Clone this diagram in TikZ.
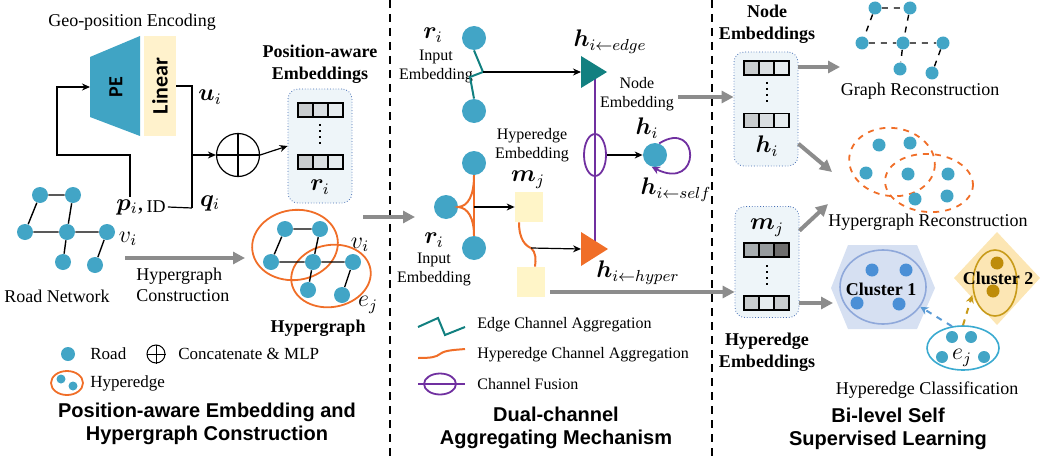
\documentclass[tikz,border=0pt]{standalone}
\usepackage{amsmath, amssymb}
\usepackage{bm}
\usepackage{fontspec}
\setmainfont{Liberation Serif}
\newfontfamily\headfont{Liberation Sans}
\newfontfamily\blockfont{Carlito}
\usetikzlibrary{
  arrows.meta, positioning, shapes.geometric, calc
}
\definecolor{roadblue}{RGB}{66, 165, 198}
\definecolor{pecol}{RGB}{64, 164, 196}
\definecolor{linfill}{RGB}{255, 242, 204}
\definecolor{mfill}{RGB}{255, 245, 200}
\definecolor{edgeteal}{RGB}{18, 128, 128}
\definecolor{hyporange}{RGB}{240, 110, 40}
\definecolor{fusepurple}{RGB}{112, 48, 160}
\definecolor{arrowgray}{RGB}{140, 140, 140}
\definecolor{boxblue}{RGB}{70, 110, 180}
\definecolor{boxfill}{RGB}{238, 245, 249}
\definecolor{cellA}{RGB}{200, 204, 206}
\definecolor{cellB}{RGB}{217, 222, 225}
\definecolor{cellC}{RGB}{230, 236, 239}
\definecolor{cellD}{RGB}{167, 173, 176}
\definecolor{cellE}{RGB}{150, 155, 158}
\definecolor{cellF}{RGB}{110, 110, 110}
\definecolor{hexfill}{RGB}{214, 224, 242}
\definecolor{clu1line}{RGB}{143, 168, 218}
\definecolor{clu1dot}{RGB}{74, 143, 214}
\definecolor{diafill}{RGB}{252, 230, 180}
\definecolor{clu2line}{RGB}{200, 155, 26}
\definecolor{clu2dot}{RGB}{190, 140, 10}
\definecolor{ejline}{RGB}{58, 170, 208}
\definecolor{arrowblue}{RGB}{91, 155, 213}

\begin{document}
\begin{tikzpicture}[
    x=0.5pt, y=-0.5pt,
    lbl/.style={font=\fontsize{9}{10.5}\selectfont, align=center, inner sep=1pt},
    smalllbl/.style={font=\fontsize{8}{9.5}\selectfont, align=center, inner sep=1pt},
    leglbl/.style={font=\fontsize{8.5}{10}\selectfont, inner sep=1pt, anchor=west},
    boldlbl/.style={font=\fontsize{9}{11}\selectfont\bfseries, align=center, inner sep=1pt},
    title/.style={font=\headfont\bfseries\fontsize{10}{11.5}\selectfont, align=center},
    mlbl/.style={font=\fontsize{12}{14}\selectfont, inner sep=1pt},
    road/.style={circle, fill=roadblue, inner sep=0pt, minimum size=8pt},
    bignode/.style={road, minimum size=12pt},
    dotnode/.style={road, minimum size=6.5pt},
    link/.style={line width=0.7pt},
    arrow/.style={-{Stealth[length=4pt,width=3.5pt]}, line width=0.6pt},
    garrow/.style={-{Triangle[length=6pt,width=6pt]}, line width=2pt, arrowgray},
    embbox/.style={draw=boxblue, densely dotted, rounded corners=5pt, fill=boxfill,
                   minimum width=32pt, minimum height=57pt},
    cell/.style={draw, line width=0.6pt, minimum width=7.5pt, minimum height=7pt,
                 inner sep=0pt, outer sep=0pt},
    mbox/.style={fill=mfill, minimum width=14pt, minimum height=15pt, inner sep=0pt},
    divider/.style={line width=0.9pt, dash pattern=on 4pt off 3pt},
  ]
    \useasboundingbox (0,0) rectangle (1047,460);

    % Panel borders
    \draw[divider] (390,0) -- (390,460);
    \draw[divider] (712,0) -- (712,460);

    % ---------- Position-aware embedding ----------
    \node[lbl] (geotitle) at (132,22) {Geo-position Encoding};
    \fill[pecol] (90,57) -- (140,36) -- (140,136) -- (90,117) -- cycle;
    \coordinate (pein) at (90,87);
    \node[rotate=90, font=\blockfont\bfseries\fontsize{10}{12}\selectfont] (pe) at (116,87) {PE};
    \node[fill=linfill, minimum width=16pt, minimum height=50pt, inner sep=0pt] (linear) at (160,86) {};
    \node[rotate=90, font=\blockfont\bfseries\fontsize{11}{13}\selectfont] (lintext) at (linear) {Linear};

    \node[mlbl] (ui) at (210,97) {$\boldsymbol{u}_i$};
    \node[mlbl] (qi) at (210,203) {$\boldsymbol{q}_i$};
    \node[mlbl] (pi) at (130,207) {$\boldsymbol{p}_i$,};
    \node[lbl] (idlbl) at (156,207) {ID};
    \coordinate (qcorner) at (192,208);
    \coordinate (loop) at (57,155);

    \node[circle, draw, line width=0.6pt, minimum size=21.5pt, inner sep=0pt] (cat) at (238,155) {};
    \draw[line width=0.6pt] (cat.north) -- (cat.south) (cat.west) -- (cat.east);

    \draw[arrow] (pi.north) |- (loop) |- (pein);
    \draw[line width=0.6pt] (linear.east) -| (qcorner);
    \draw[line width=0.6pt] (idlbl.east) -- (qcorner);
    \draw[arrow] (qcorner |- cat.west) -- (cat.west);

    \node[boldlbl] (postitle) at (320,64) {Position-aware\\Embeddings};
    \node[embbox] (posbox) at (320,146) {};
    \foreach \rw/\yy in {1/110, 2/162} {
      \node[cell, fill=cellA] (p\rw a) at (305.5,\yy) {};
      \node[cell, fill=cellB, right=0pt of p\rw a] (p\rw b) {};
      \node[cell, fill=cellC, right=0pt of p\rw b] (p\rw c) {};
    }
    \draw[line width=1pt, dotted] (320,124) -- (320,148);
    \node[mlbl] (ri) at (320,187) {$\boldsymbol{r}_i$};
    \draw[arrow] (cat.east) -- (posbox.west);

    % Road network
    \node[road] (a1) at (40,195) {};
    \node[road] (a2) at (73,195) {};
    \node[road] (a3) at (25,232) {};
    \node[road] (a4) at (67,232) {};
    \node[road] (a5) at (107,232) {};
    \node[road] (a6) at (63,262) {};
    \node[road] (a7) at (95,265) {};
    \draw[link] (a1) -- (a2) (a1) -- (a3) (a2) -- (a4) (a3) -- (a4)
                (a4) -- (a5) (a4) -- (a6) (a5) -- (a7);
    \node[mlbl] (vi) at (128,239) {$v_i$};
    \node[lbl] (roadlbl) at (57,296) {Road Network};

    \coordinate (hcstart) at (125,258);
    \coordinate (hcend) at (245,258);
    \draw[garrow] (hcstart) -- (hcend);
    \node[lbl, align=left, anchor=west] (hclbl) at (134,285) {Hypergraph\\Construction};

    % Hypergraph
    \node[ellipse, draw=hyporange, line width=0.9pt, minimum width=43pt, minimum height=35pt,
          rotate=8] (he1) at (295,245) {};
    \node[ellipse, draw=hyporange, line width=0.9pt, minimum width=40pt, minimum height=31pt,
          rotate=10] (he2) at (331,276) {};
    \node[road] (b1) at (285,229) {};
    \node[road] (b2) at (320,229) {};
    \node[road] (b3) at (271,262) {};
    \node[road] (b4) at (313,262) {};
    \node[road] (b5) at (353,262) {};
    \node[road] (b6) at (308,290) {};
    \node[road] (b7) at (342,295) {};
    \draw[link] (b1) -- (b2) (b1) -- (b3) (b2) -- (b4) (b3) -- (b4)
                (b4) -- (b5) (b4) -- (b6) (b5) -- (b7);
    \node[mlbl] (vi2) at (360,245) {$v_i$};
    \node[mlbl] (ej) at (368,305) {$e_j$};
    \node[boldlbl] (hglbl) at (318,328) {Hypergraph};

    \coordinate (toagg) at (415,217);
    \draw[garrow] (363,217) -- (toagg);

    % Legend
    \node[road, minimum size=7pt] (legroad) at (68,354) {};
    \node[leglbl] (legroadtxt) at (88,354) {Road};
    \node[circle, draw, line width=0.5pt, minimum size=9pt, inner sep=0pt] (legcat) at (156,354) {};
    \draw[line width=0.5pt] (legcat.north) -- (legcat.south) (legcat.west) -- (legcat.east);
    \node[leglbl] (legcattxt) at (176,354) {Concatenate \& MLP};
    \node[ellipse, draw=hyporange, line width=0.9pt, minimum width=16pt, minimum height=12pt] (leghe) at (67,383) {};
    \node[road, minimum size=4.5pt] at (61,379) {};
    \node[road, minimum size=4.5pt] at (73,386) {};
    \node[leglbl] (leghetxt) at (88,383) {Hyperedge};

    \node[title] (t1) at (207,424) {Position-aware Embedding and\\Hypergraph Construction};

    % ---------- Dual-channel aggregation ----------
    \node[bignode] (et) at (474,38) {};
    \node[bignode] (eb) at (474,111) {};
    \node[mlbl] (ri2) at (433,35) {$\boldsymbol{r}_i$};
    \node[smalllbl] (in1) at (436,66) {Input\\Embedding};
    \coordinate (ejoin) at (483,72);
    \draw[edgeteal, line width=1pt] (et.south) -- (ejoin) -- (470,77) -- (eb.north);

    % fusion line and outputs
    \draw[fusepurple, line width=0.9pt] (595,72) -- (595,248);
    \fill[edgeteal] (581,56) -- (607,72) -- (581,88) -- cycle;
    \coordinate (edgein) at (581,72);
    \fill[hyporange] (581,232) -- (608,249) -- (581,266) -- cycle;
    \coordinate (hyperin) at (581,249);
    \draw[arrow] (ejoin) -- (edgein);
    \node[mlbl] (hedge) at (610,42) {$\boldsymbol{h}_{i\leftarrow edge}$};
    \node[mlbl] (hhyper) at (638,273) {$\boldsymbol{h}_{i\leftarrow hyper}$};

    \node[ellipse, draw=fusepurple, line width=0.9pt, minimum width=11pt, minimum height=21pt,
          inner sep=0pt] (fuse) at (595,155) {};
    \node[bignode] (hi) at (655,155) {};
    \draw[arrow] (fuse.east) -- (hi.west);
    \draw[fusepurple, line width=0.9pt, -{Stealth[length=4pt,width=4pt]}]
      (hi.70) .. controls (700,118) and (702,192) .. (hi.-105);
    \node[mlbl] (hilbl) at (647,128) {$\boldsymbol{h}_i$};
    \node[mlbl] (hself) at (676,190) {$\boldsymbol{h}_{i\leftarrow self}$};
    \node[smalllbl] (nodeemb) at (637,94) {Node\\Embedding};

    % hyperedge channel
    \node[bignode] (ht) at (474,163) {};
    \node[bignode] (hl) at (446,207) {};
    \node[bignode] (hb) at (474,248) {};
    \draw[hyporange, line width=1pt] (ht.south) -- (hb.north);
    \draw[hyporange, line width=1pt] (ht.south) .. controls (474,196) and (468,206) .. (hl.east)
          .. controls (468,208) and (474,218) .. (hb.north);
    \node[mlbl] (ri3) at (434,240) {$\boldsymbol{r}_i$};
    \node[smalllbl] (in2) at (434,269) {Input\\Embedding};

    \node[mbox] (mj1) at (529,207) {};
    \node[mbox] (mj2) at (531,282) {};
    \draw[arrow] (ht.south |- hl) -- (mj1.west);
    \node[smalllbl] (hyemb) at (532,145) {Hyperedge\\Embedding};
    \node[mlbl] (mjlbl) at (528,180) {$\boldsymbol{m}_j$};
    \coordinate (hbend) at (531,248);
    \draw[hyporange, line width=1pt] ($(mj1.south)+(-10,0)$) .. controls (519,240) and (526,246) .. (hbend)
          .. controls (536,252) and (536,260) .. ($(mj2.north)+(4,0)$);
    \draw[arrow] (hbend) -- (hyperin);

    % Legend
    \draw[edgeteal, line width=1pt] (418,327) -- (438,318) -- (445,335) -- (465,327);
    \node[smalllbl, anchor=west] (legedge) at (475,325) {Edge Channel Aggregation};
    \draw[hyporange, line width=1pt] (418,358) .. controls (432,358) and (436,357) .. (440,354)
          .. controls (445,350) and (455,350) .. (465,349);
    \node[smalllbl, anchor=west] (leghyper) at (475,355) {Hyperedge Channel Aggregation};
    \node[ellipse, draw=fusepurple, line width=0.9pt, minimum width=16pt, minimum height=10.5pt,
          inner sep=0pt] (legfuse) at (440,384) {};
    \draw[fusepurple, line width=0.9pt] (418,384) -- (465,384);
    \node[smalllbl, anchor=west] (legfusetxt) at (475,384) {Channel Fusion};

    \node[title] (t2) at (556,428) {Dual-channel\\Aggregating Mechanism};

    % ---------- Bi-level self supervised learning ----------
    \node[boldlbl] (nodetitle) at (767,24) {Node\\Embeddings};
    \node[embbox, minimum height=57pt] (nodebox) at (766,109) {};
    \foreach \rw/\yy in {1/68, 2/120.5} {
      \node[cell, fill=cellA] (n\rw a) at (751.5,\yy) {};
      \node[cell, fill=cellB, right=0pt of n\rw a] (n\rw b) {};
      \node[cell, fill=cellC, right=0pt of n\rw b] (n\rw c) {};
    }
    \draw[line width=1pt, dotted] (767,82) -- (767,106);
    \node[mlbl] (hilbl2) at (767,146) {$\boldsymbol{h}_i$};

    \node[embbox, minimum height=55.5pt] (hedgebox) at (767,262) {};
    \node[mlbl] (mjlbl2) at (767,228) {$\boldsymbol{m}_j$};
    \node[cell, fill=cellD] (m1a) at (751.5,250) {};
    \node[cell, fill=cellE, right=0pt of m1a] (m1b) {};
    \node[cell, fill=cellF, right=0pt of m1b] (m1c) {};
    \draw[line width=1pt, dotted] (767,265) -- (767,288);
    \node[cell, fill=cellA] (m2a) at (751.5,303) {};
    \node[cell, fill=cellC, right=0pt of m2a] (m2b) {};
    \node[cell, fill=cellA, right=0pt of m2b] (m2c) {};
    \node[boldlbl] (hedgetitle) at (767,352) {Hyperedge\\Embeddings};

    % incoming arrows
    \coordinate (nout) at (678,97);
    \draw[garrow] (nout) -- (nout -| nodebox.west);
    \coordinate (hout) at (550,292);
    \draw[garrow] (hout) -- (hout -| hedgebox.west);

    % Graph reconstruction
    \node[road, minimum size=6.5pt] (g1) at (875,8) {};
    \node[road, minimum size=6.5pt] (g2) at (910,8) {};
    \node[road, minimum size=6.5pt] (g3) at (862,43) {};
    \node[road, minimum size=6.5pt] (g4) at (903,43) {};
    \node[road, minimum size=6.5pt] (g5) at (943,43) {};
    \node[road, minimum size=6.5pt] (g6) at (900,69) {};
    \node[road, minimum size=6.5pt] (g7) at (932,73) {};
    \draw[link, dashed] (g1) -- (g2) (g1) -- (g3) (g2) -- (g4) (g3) -- (g4)
                        (g4) -- (g5) (g4) -- (g6) (g5) -- (g7);
    \node[lbl] (grlbl) at (920,91) {Graph Reconstruction};
    \coordinate (grec) at (840,67);
    \draw[garrow] (grec -| nodebox.east) -- (grec);

    % Hypergraph reconstruction
    \node[ellipse, draw=hyporange, dashed, line width=0.9pt, minimum width=43pt, minimum height=34pt,
          rotate=-8] (hr1) at (892,162) {};
    \node[ellipse, draw=hyporange, dashed, line width=0.9pt, minimum width=44pt, minimum height=29pt,
          rotate=-4] (hr2) at (929,183) {};
    \node[dotnode] (c1) at (879,145) {};
    \node[dotnode] (c2) at (910,143) {};
    \node[dotnode] (c3) at (866,173) {};
    \node[dotnode] (c4) at (908,174) {};
    \node[dotnode] (c5) at (948,174) {};
    \node[dotnode] (c6) at (915,199) {};
    \node[dotnode] (c7) at (947,196) {};
    \node[lbl] (hrlbl) at (928,222) {Hypergraph Reconstruction};
    \coordinate (hrec1) at (832,172);
    \coordinate (hrec2) at (828,204);
    \draw[garrow] (nodebox.-47) -- (hrec1);
    \draw[garrow] (hedgebox.44) -- (hrec2);

    % Hyperedge classification
    \fill[hexfill] (831,288) -- (848,245) -- (917,245) -- (935,288) -- (917,329) -- (848,329) -- cycle;
    \node[ellipse, draw=clu1line, line width=0.8pt, minimum width=43pt, minimum height=37pt] (clu1) at (883,287) {};
    \foreach \px/\py in {872/270, 906/270, 857/303, 899/304}
      \node[circle, fill=clu1dot, inner sep=0pt, minimum size=6.5pt] at (\px,\py) {};
    \node[boldlbl] (clu1lbl) at (881,289) {Cluster 1};
    \coordinate (c1in) at (833,303);
    \draw[garrow] (c1in -| hedgebox.east) -- (c1in);

    \fill[diafill] (954,278) -- (997,232) -- (1040,278) -- (997,325) -- cycle;
    \node[ellipse, draw=clu2line, line width=0.8pt, minimum width=22pt, minimum height=33pt] (clu2) at (995,283) {};
    \node[circle, fill=clu2dot, inner sep=0pt, minimum size=6.5pt] at (997,263) {};
    \node[circle, fill=clu2dot, inner sep=0pt, minimum size=6.5pt] at (993,291) {};
    \node[boldlbl] (clu2lbl) at (998,278) {Cluster 2};

    \node[ellipse, draw=ejline, line width=0.8pt, minimum width=36pt, minimum height=22pt] (ejell) at (963,348) {};
    \foreach \px/\py in {952/337, 971/337, 942/357, 984/357}
      \node[dotnode, minimum size=6pt] at (\px,\py) {};
    \node[mlbl] (ejlbl) at (962,358) {$e_j$};
    \draw[arrowblue, dashed, line width=1pt, -{Stealth[length=4pt,width=4pt]}] (ejell.117) -- (clu1.-28);
    \draw[clu2line, dashed, line width=1pt, -{Stealth[length=4pt,width=4pt]}] (ejell.90) -- ($(clu2.west)+(0,12)$);
    \node[lbl] (hclslbl) at (927,390) {Hyperedge Classification};

    \node[title] (t3) at (888,429) {Bi-level Self\\Supervised Learning};
  \end{tikzpicture}
\end{document}
